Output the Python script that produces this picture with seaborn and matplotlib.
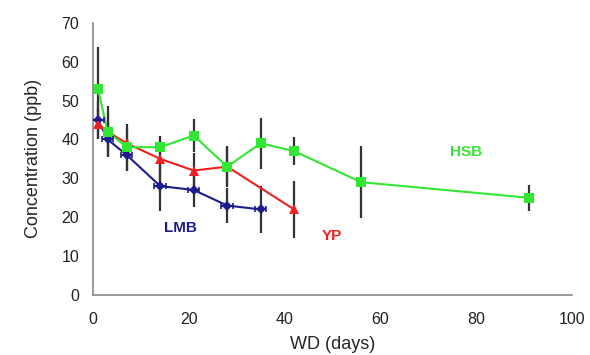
import numpy as np
import pandas as pd
import matplotlib
matplotlib.use("Agg")
import matplotlib.pyplot as plt
import seaborn as sns

# withdrawal days and concentrations (ppb)
lmb_days = [1, 3, 7, 14, 21, 28, 35]
lmb_conc = [45, 40, 36, 28, 27, 23, 22]
lmb_err = [5, 4.5, 4, 6.5, 4.5, 4.5, 6]

yp_days = [1, 3, 7, 14, 21, 28, 42]
yp_conc = [44, 42, 39, 35, 32, 33, 22]
yp_err = [4, 4.5, 4, 6, 4.5, 5, 7.3]

hsb_days = [1, 3, 7, 14, 21, 28, 35, 42, 56, 91]
hsb_conc = [53, 42, 38, 38, 41, 33, 39, 37, 29, 25]
hsb_err = [10.7, 6.5, 6, 3, 4.3, 5.2, 6.5, 3.6, 9.3, 3.3]

colors = {"LMB": "#1c1c8c", "YP": "#f02020", "HSB": "#33e633"}
markers = {"LMB": "D", "YP": "^", "HSB": "s"}
msizes = {"LMB": 5, "YP": 7, "HSB": 7}

df = pd.concat([
    pd.DataFrame({"days": lmb_days, "conc": lmb_conc, "err": lmb_err, "species": "LMB"}),
    pd.DataFrame({"days": yp_days, "conc": yp_conc, "err": yp_err, "species": "YP"}),
    pd.DataFrame({"days": hsb_days, "conc": hsb_conc, "err": hsb_err, "species": "HSB"}),
])

sns.set_style("white")
plt.rcParams['font.family'] = ['Liberation Sans', 'DejaVu Sans']

fig, ax = plt.subplots(figsize=(5.9, 3.55), dpi=100)
fig.subplots_adjust(left=0.158, right=0.969, bottom=0.169, top=0.936)

# vertical error bars (dark grey)
for sp, grp in df.groupby("species"):
    ax.errorbar(grp["days"], grp["conc"], yerr=grp["err"], fmt="none",
                ecolor="#333333", elinewidth=1.6, capsize=0, zorder=1)

# small horizontal bars on the LMB markers
lmb = df[df["species"] == "LMB"]
ax.errorbar(lmb["days"], lmb["conc"], xerr=1.2, fmt="none",
            ecolor=colors["LMB"], elinewidth=1.5, capsize=2.5, capthick=1.2, zorder=3)

for sp in ["LMB", "YP", "HSB"]:
    sns.lineplot(data=df[df["species"] == sp], x="days", y="conc",
                 color=colors[sp], marker=markers[sp], markersize=msizes[sp],
                 markeredgewidth=0, linewidth=1.5, sort=False, legend=False,
                 ax=ax, zorder=2)

ax.set_xlim(0, 100)
ax.set_ylim(0, 70)
ax.set_xticks(np.arange(0, 101, 20))
ax.set_yticks(np.arange(0, 71, 10))
ax.tick_params(axis="both", labelsize=11.5, colors="#222222", length=4,
               width=1, color="#888888", pad=6)
ax.tick_params(axis="x", direction="in", pad=12)
ax.tick_params(axis="y", direction="out")

for side in ["top", "right"]:
    ax.spines[side].set_visible(False)
for side in ["left", "bottom"]:
    ax.spines[side].set_color("#888888")
    ax.spines[side].set_linewidth(1.2)

ax.set_xlabel("WD (days)", fontsize=13, labelpad=7)
ax.set_ylabel("Concentration (ppb)", fontsize=13, labelpad=14)

ax.text(18.2, 17.2, "LMB", color=colors["LMB"], fontsize=11, fontweight="bold",
        ha="center", va="center")
ax.text(49.8, 15.1, "YP", color=colors["YP"], fontsize=11, fontweight="bold",
        ha="center", va="center")
ax.text(78, 36.7, "HSB", color=colors["HSB"], fontsize=11, fontweight="bold",
        ha="center", va="center")

fig.savefig("out.png", dpi=100)
